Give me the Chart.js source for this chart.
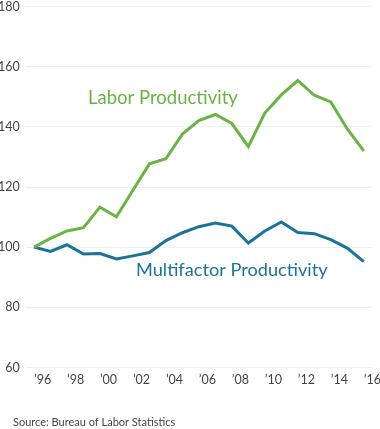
<!DOCTYPE html>
<html>
<head>
<meta charset="utf-8">
<script src="https://cdn.jsdelivr.net/npm/chart.js@4"></script>
<style>
  body { margin: 0; background: #fff; }
  #wrap { width: 380px; height: 429px; position: relative; overflow: hidden; }
  #inner { position: absolute; left: 0; top: -7.5px; width: 380px; height: 436.5px; }
</style>
</head>
<body>
<div id="wrap"><div id="inner"><canvas id="myChart"></canvas></div></div>
<script>
// index, 1996 = 100
const years = [1996, 1997, 1998, 1999, 2000, 2001, 2002, 2003, 2004, 2005, 2006,
               2007, 2008, 2009, 2010, 2011, 2012, 2013, 2014, 2015, 2016];
const labor = [100, 102.9, 105.4, 106.5, 113.3, 110.1, 118.9, 127.7, 129.4, 137.6, 142.1,
               144.1, 141.1, 133.4, 144.6, 150.6, 155.4, 150.5, 148.3, 139.3, 132.0];
const multifactor = [100, 98.6, 100.8, 97.7, 97.9, 96.1, 97.1, 98.2, 102.2, 104.8, 106.8,
                     108.0, 107.0, 101.4, 105.4, 108.4, 104.9, 104.5, 102.5, 99.7, 95.2];
const yTicks = [60, 80, 100, 120, 140, 160, 180];

const FONT = 'Lato, "Open Sans", sans-serif';
const GREEN = '#6ab344';
const BLUE = '#1b7399';
const SHIFT = 7.5; // canvas is moved up by this much

const textPlugin = {
    id: 'texts',
    afterDraw(chart) {
        const ctx = chart.ctx;
        ctx.save();
        ctx.textBaseline = 'middle';
        ctx.textAlign = 'left';
        ctx.font = '18.5px ' + FONT;
        ctx.fillStyle = GREEN;
        ctx.fillText('Labor Productivity', 88, 98 + SHIFT);
        ctx.font = '18.2px ' + FONT;
        ctx.fillStyle = BLUE;
        ctx.fillText('Multifactor Productivity', 136, 270 + SHIFT);
        ctx.font = '11px ' + FONT;
        ctx.fillStyle = '#444';
        ctx.fillText('Source: Bureau of Labor Statistics', 13, 422 + SHIFT);
        ctx.restore();
    }
};

const ctx = document.getElementById('myChart').getContext('2d');
const myChart = new Chart(ctx, {
    type: 'line',
    data: {
        labels: years,
        datasets: [
            {
                label: 'Labor Productivity',
                data: labor,
                borderColor: GREEN,
                borderWidth: 3,
                pointRadius: 0,
                fill: false,
                tension: 0
            },
            {
                label: 'Multifactor Productivity',
                data: multifactor,
                borderColor: BLUE,
                borderWidth: 3,
                pointRadius: 0,
                fill: false,
                tension: 0
            }
        ]
    },
    options: {
        responsive: true,
        maintainAspectRatio: false,
        animation: false,
        layout: { padding: { left: -8, right: 8, top: 0, bottom: 40 } },
        plugins: {
            legend: { display: false },
            tooltip: { enabled: false }
        },
        scales: {
            x: {
                offset: true,
                grid: { display: false, drawTicks: false },
                border: { display: false },
                afterFit: function(scale) {
                    scale.height = 22;
                    scale.paddingRight = 0;
                },
                ticks: {
                    autoSkip: false,
                    maxRotation: 0,
                    align: 'start',
                    padding: 5,
                    color: '#444',
                    font: { family: FONT, size: 12.5 },
                    callback: function(value, index) {
                        const y = years[index];
                        return y % 2 === 0 ? '\u2019' + String(y).slice(2) : '';
                    }
                }
            },
            y: {
                min: 60,
                max: 180,
                afterBuildTicks: function(scale) {
                    scale.ticks = yTicks.map(v => ({ value: v }));
                },
                grid: { color: '#eeeeee', drawTicks: false, lineWidth: 1 },
                border: { display: false },
                ticks: {
                    padding: 6,
                    color: '#444',
                    font: { family: FONT, size: 12.5 }
                }
            }
        }
    },
    plugins: [textPlugin]
});
</script>
</body>
</html>
